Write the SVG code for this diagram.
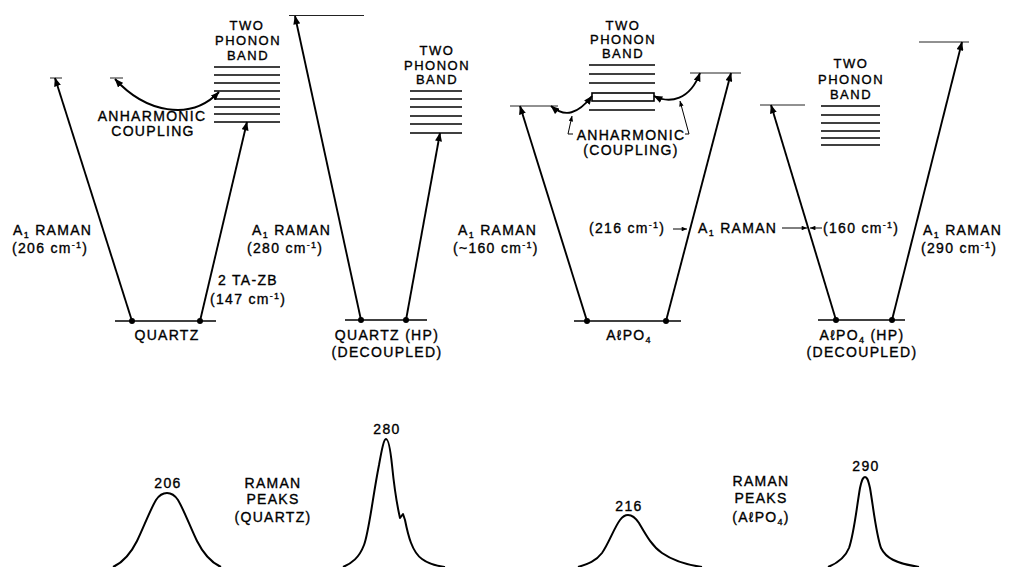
<svg xmlns="http://www.w3.org/2000/svg" width="1009" height="567" viewBox="0 0 1009 567">
  <style>
    text { font-family: "Liberation Sans", Arial, sans-serif; font-size: 14px; fill: #000; stroke: #000; stroke-width: 0.35px; letter-spacing: 1.3px; }
    .band-title { font-size: 13px; letter-spacing: 1.5px; text-anchor: middle; }
    .mid { text-anchor: middle; }
    .sub { font-size: 9px; }
    .sup { font-size: 9px; }
    .trans { stroke: #000; stroke-width: 1.9; fill: none; }
    .ptr { stroke: #000; stroke-width: 1; fill: none; }
    .band { stroke: #000; stroke-width: 1.6; }
    .level { stroke: #222; stroke-width: 1; }
    .ground { stroke: #000; stroke-width: 1.6; }
    .peak { stroke: #000; stroke-width: 2; fill: none; stroke-linejoin: round; }
  </style>
  <defs>
    <marker id="head" viewBox="0 0 10 8" refX="9.5" refY="4" markerWidth="9" markerHeight="7" markerUnits="userSpaceOnUse" orient="auto-start-reverse">
      <path d="M0,0 L10,4 L0,8 z" fill="#000"/>
    </marker>
    <marker id="tip" viewBox="0 0 10 8" refX="9.5" refY="4" markerWidth="6" markerHeight="4.5" markerUnits="userSpaceOnUse" orient="auto">
      <path d="M0,0 L10,4 L0,8 z" fill="#000"/>
    </marker>
  </defs>
  <rect width="1009" height="567" fill="#fff"/>

  <!-- Quartz -->
  <g id="quartz">
    <line class="ground" x1="115" y1="321" x2="216" y2="321"/>
    <circle cx="132" cy="321" r="3"/>
    <circle cx="200" cy="321" r="3"/>
    <line class="level" x1="50" y1="78" x2="62" y2="78"/>
    <line class="level" x1="110" y1="78" x2="123" y2="78"/>
    <g class="band">
      <line x1="214" y1="67" x2="280" y2="67"/>
      <line x1="214" y1="75" x2="280" y2="75"/>
      <line x1="214" y1="83" x2="280" y2="83"/>
      <line x1="214" y1="91" x2="280" y2="91"/>
      <line x1="214" y1="99" x2="280" y2="99"/>
      <line x1="214" y1="107" x2="280" y2="107"/>
      <line x1="214" y1="114" x2="280" y2="114"/>
      <line x1="214" y1="122" x2="280" y2="122"/>
    </g>
    <text class="band-title" x="247" y="30">TWO</text>
    <text class="band-title" x="248" y="45">PHONON</text>
    <text class="band-title" x="248" y="60">BAND</text>
    <text class="mid" x="152" y="121">ANHARMONIC</text>
    <text class="mid" x="153" y="136">COUPLING</text>
    <text x="13" y="235">A<tspan class="sub" dy="3">1</tspan><tspan dy="-3"> RAMAN</tspan></text>
    <text x="12" y="253">(206 cm<tspan class="sup" dy="-5">-1</tspan><tspan dy="5">)</tspan></text>
    <text x="218" y="285">2 TA-ZB</text>
    <text x="210" y="304">(147 cm<tspan class="sup" dy="-5">-1</tspan><tspan dy="5">)</tspan></text>
    <text class="mid" x="167" y="340">QUARTZ</text>
  </g>

  <!-- Quartz (HP), decoupled -->
  <g id="quartz-hp">
    <line class="ground" x1="345" y1="320" x2="427" y2="320"/>
    <circle cx="361" cy="320" r="3"/>
    <circle cx="406" cy="320" r="3"/>
    <line class="level" x1="289" y1="15.5" x2="364" y2="15.5"/>
    <g class="band">
      <line x1="410" y1="91" x2="462" y2="91"/>
      <line x1="410" y1="99" x2="462" y2="99"/>
      <line x1="410" y1="107" x2="462" y2="107"/>
      <line x1="410" y1="116" x2="462" y2="116"/>
      <line x1="410" y1="124" x2="462" y2="124"/>
      <line x1="410" y1="133" x2="462" y2="133"/>
    </g>
    <text class="band-title" x="437" y="55">TWO</text>
    <text class="band-title" x="437" y="70">PHONON</text>
    <text class="band-title" x="437" y="84">BAND</text>
    <text x="252" y="235">A<tspan class="sub" dy="3">1</tspan><tspan dy="-3"> RAMAN</tspan></text>
    <text x="247" y="253">(280 cm<tspan class="sup" dy="-5">-1</tspan><tspan dy="5">)</tspan></text>
    <text class="mid" x="387" y="340">QUARTZ (HP)</text>
    <text class="mid" x="387" y="357">(DECOUPLED)</text>
  </g>

  <!-- AlPO4 -->
  <g id="alpo4">
    <line class="ground" x1="574" y1="321" x2="681" y2="321"/>
    <circle cx="587" cy="321" r="3"/>
    <circle cx="666" cy="321" r="3"/>
    <line class="level" x1="510" y1="106" x2="558" y2="106"/>
    <line class="level" x1="690" y1="73" x2="741" y2="73"/>
    <g class="band">
      <line x1="589" y1="65" x2="655" y2="65"/>
      <line x1="589" y1="74" x2="655" y2="74"/>
      <line x1="589" y1="83" x2="655" y2="83"/>
      <rect x="592" y="93" width="62" height="8" fill="none"/>
      <line x1="589" y1="110" x2="655" y2="110"/>
    </g>
    <text class="band-title" x="623" y="30">TWO</text>
    <text class="band-title" x="623" y="44">PHONON</text>
    <text class="band-title" x="623" y="58">BAND</text>
    <text class="mid" x="631" y="140">ANHARMONIC</text>
    <text class="mid" x="631" y="155">(COUPLING)</text>
    <text x="458" y="235">A<tspan class="sub" dy="3">1</tspan><tspan dy="-3"> RAMAN</tspan></text>
    <text x="453" y="253">(~160 cm<tspan class="sup" dy="-5">-1</tspan><tspan dy="5">)</tspan></text>
    <text x="589" y="233">(216 cm<tspan class="sup" dy="-5">-1</tspan><tspan dy="5">)</tspan></text>
    <text x="698" y="233">A<tspan class="sub" dy="3">1</tspan><tspan dy="-3"> RAMAN</tspan></text>
    <text class="mid" x="629" y="340">A<tspan>ℓ</tspan>PO<tspan class="sub" dy="3">4</tspan></text>
  </g>

  <!-- AlPO4 (HP), decoupled -->
  <g id="alpo4-hp">
    <line class="ground" x1="818" y1="320" x2="905" y2="320"/>
    <circle cx="836" cy="320" r="3"/>
    <circle cx="892" cy="320" r="3"/>
    <line class="level" x1="760" y1="105" x2="805" y2="105"/>
    <line class="level" x1="919" y1="42" x2="969" y2="42"/>
    <g class="band">
      <line x1="821" y1="106" x2="880" y2="106"/>
      <line x1="821" y1="115" x2="880" y2="115"/>
      <line x1="821" y1="123" x2="880" y2="123"/>
      <line x1="821" y1="131" x2="880" y2="131"/>
      <line x1="821" y1="138" x2="880" y2="138"/>
      <line x1="821" y1="145" x2="880" y2="145"/>
    </g>
    <text class="band-title" x="851" y="68">TWO</text>
    <text class="band-title" x="851" y="84">PHONON</text>
    <text class="band-title" x="851" y="99">BAND</text>
    <text x="823" y="233">(160 cm<tspan class="sup" dy="-5">-1</tspan><tspan dy="5">)</tspan></text>
    <text x="923" y="235">A<tspan class="sub" dy="3">1</tspan><tspan dy="-3"> RAMAN</tspan></text>
    <text x="921" y="253">(290 cm<tspan class="sup" dy="-5">-1</tspan><tspan dy="5">)</tspan></text>
    <text class="mid" x="862" y="340">A<tspan>ℓ</tspan>PO<tspan class="sub" dy="3">4</tspan><tspan dy="-3"> (HP)</tspan></text>
    <text class="mid" x="862" y="357">(DECOUPLED)</text>
  </g>

  <!-- Transitions and pointers -->
  <g id="connectors">
    <line class="trans" x1="132" y1="321" x2="55" y2="78" marker-end="url(#head)"/>
    <line class="trans" x1="200" y1="321" x2="247" y2="122" marker-end="url(#head)"/>
    <path class="trans" d="M219,92 C190,122 145,112 115,79" marker-start="url(#head)" marker-end="url(#head)"/>

    <line class="trans" x1="361" y1="320" x2="295" y2="16" marker-end="url(#head)"/>
    <line class="trans" x1="406" y1="320" x2="440" y2="133" marker-end="url(#head)"/>

    <line class="trans" x1="587" y1="321" x2="520" y2="106" marker-end="url(#head)"/>
    <line class="trans" x1="666" y1="321" x2="731" y2="73" marker-end="url(#head)"/>
    <path class="trans" d="M592,96 C578,114 565,118 551,106" marker-start="url(#head)" marker-end="url(#head)"/>
    <path class="trans" d="M654,96 C670,104 690,100 700,73" marker-start="url(#head)" marker-end="url(#head)"/>
    <polyline class="ptr" points="573,134 568,134 572,116" marker-end="url(#tip)"/>
    <polyline class="ptr" points="685,134 689,134 680,101" marker-end="url(#tip)"/>
    <line class="ptr" x1="673" y1="229" x2="687" y2="229" marker-end="url(#tip)"/>
    <line class="ptr" x1="782" y1="228" x2="807" y2="228" marker-end="url(#tip)"/>
    <line class="ptr" x1="822" y1="228" x2="810" y2="228" marker-end="url(#tip)"/>

    <line class="trans" x1="836" y1="320" x2="771" y2="105" marker-end="url(#head)"/>
    <line class="trans" x1="892" y1="320" x2="962" y2="42" marker-end="url(#head)"/>
  </g>

  <!-- Raman peaks, quartz -->
  <g id="peaks-quartz">
    <path class="peak" d="M113,567 C124,562 131,553 137,541 C143,529 150,510 156,500 C160,494 163,493 167,493 C171,493 174,494 178,500 C184,510 191,529 197,541 C203,553 210,562 221,567"/>
    <text class="mid" x="168" y="488">206</text>
    <path class="peak" d="M343,567 C352,563 359,558 364,545 C369,532 373,495 379,465 C382,448 384,439 386,439 C388,439 390,446 392,465 C394,485 397,505 400,518 L403,514 L405,520 C408,535 412,552 422,559 C430,565 438,566 445,567"/>
    <text class="mid" x="387" y="434">280</text>
    <text class="mid" x="273" y="488">RAMAN</text>
    <text class="mid" x="273" y="504">PEAKS</text>
    <text class="mid" x="273" y="522">(QUARTZ)</text>
  </g>

  <!-- Raman peaks, AlPO4 -->
  <g id="peaks-alpo4">
    <path class="peak" d="M578,567 C588,564 596,561 602,553 C609,543 614,528 620,520 C623,516 625,515 628,515 C632,515 635,517 639,523 C646,535 652,546 662,553 C675,562 688,565 702,567"/>
    <text class="mid" x="629" y="511">216</text>
    <path class="peak" d="M828,567 C838,563 845,558 849,548 C854,534 857,505 860,488 C862,479 863,477 865,477 C867,477 868,479 870,488 C873,505 876,534 881,548 C886,558 895,563 919,567"/>
    <text class="mid" x="866" y="471">290</text>
    <text class="mid" x="761" y="486">RAMAN</text>
    <text class="mid" x="761" y="503">PEAKS</text>
    <text class="mid" x="761" y="522">(A<tspan>ℓ</tspan>PO<tspan class="sub" dy="3">4</tspan><tspan dy="-3">)</tspan></text>
  </g>
</svg>
